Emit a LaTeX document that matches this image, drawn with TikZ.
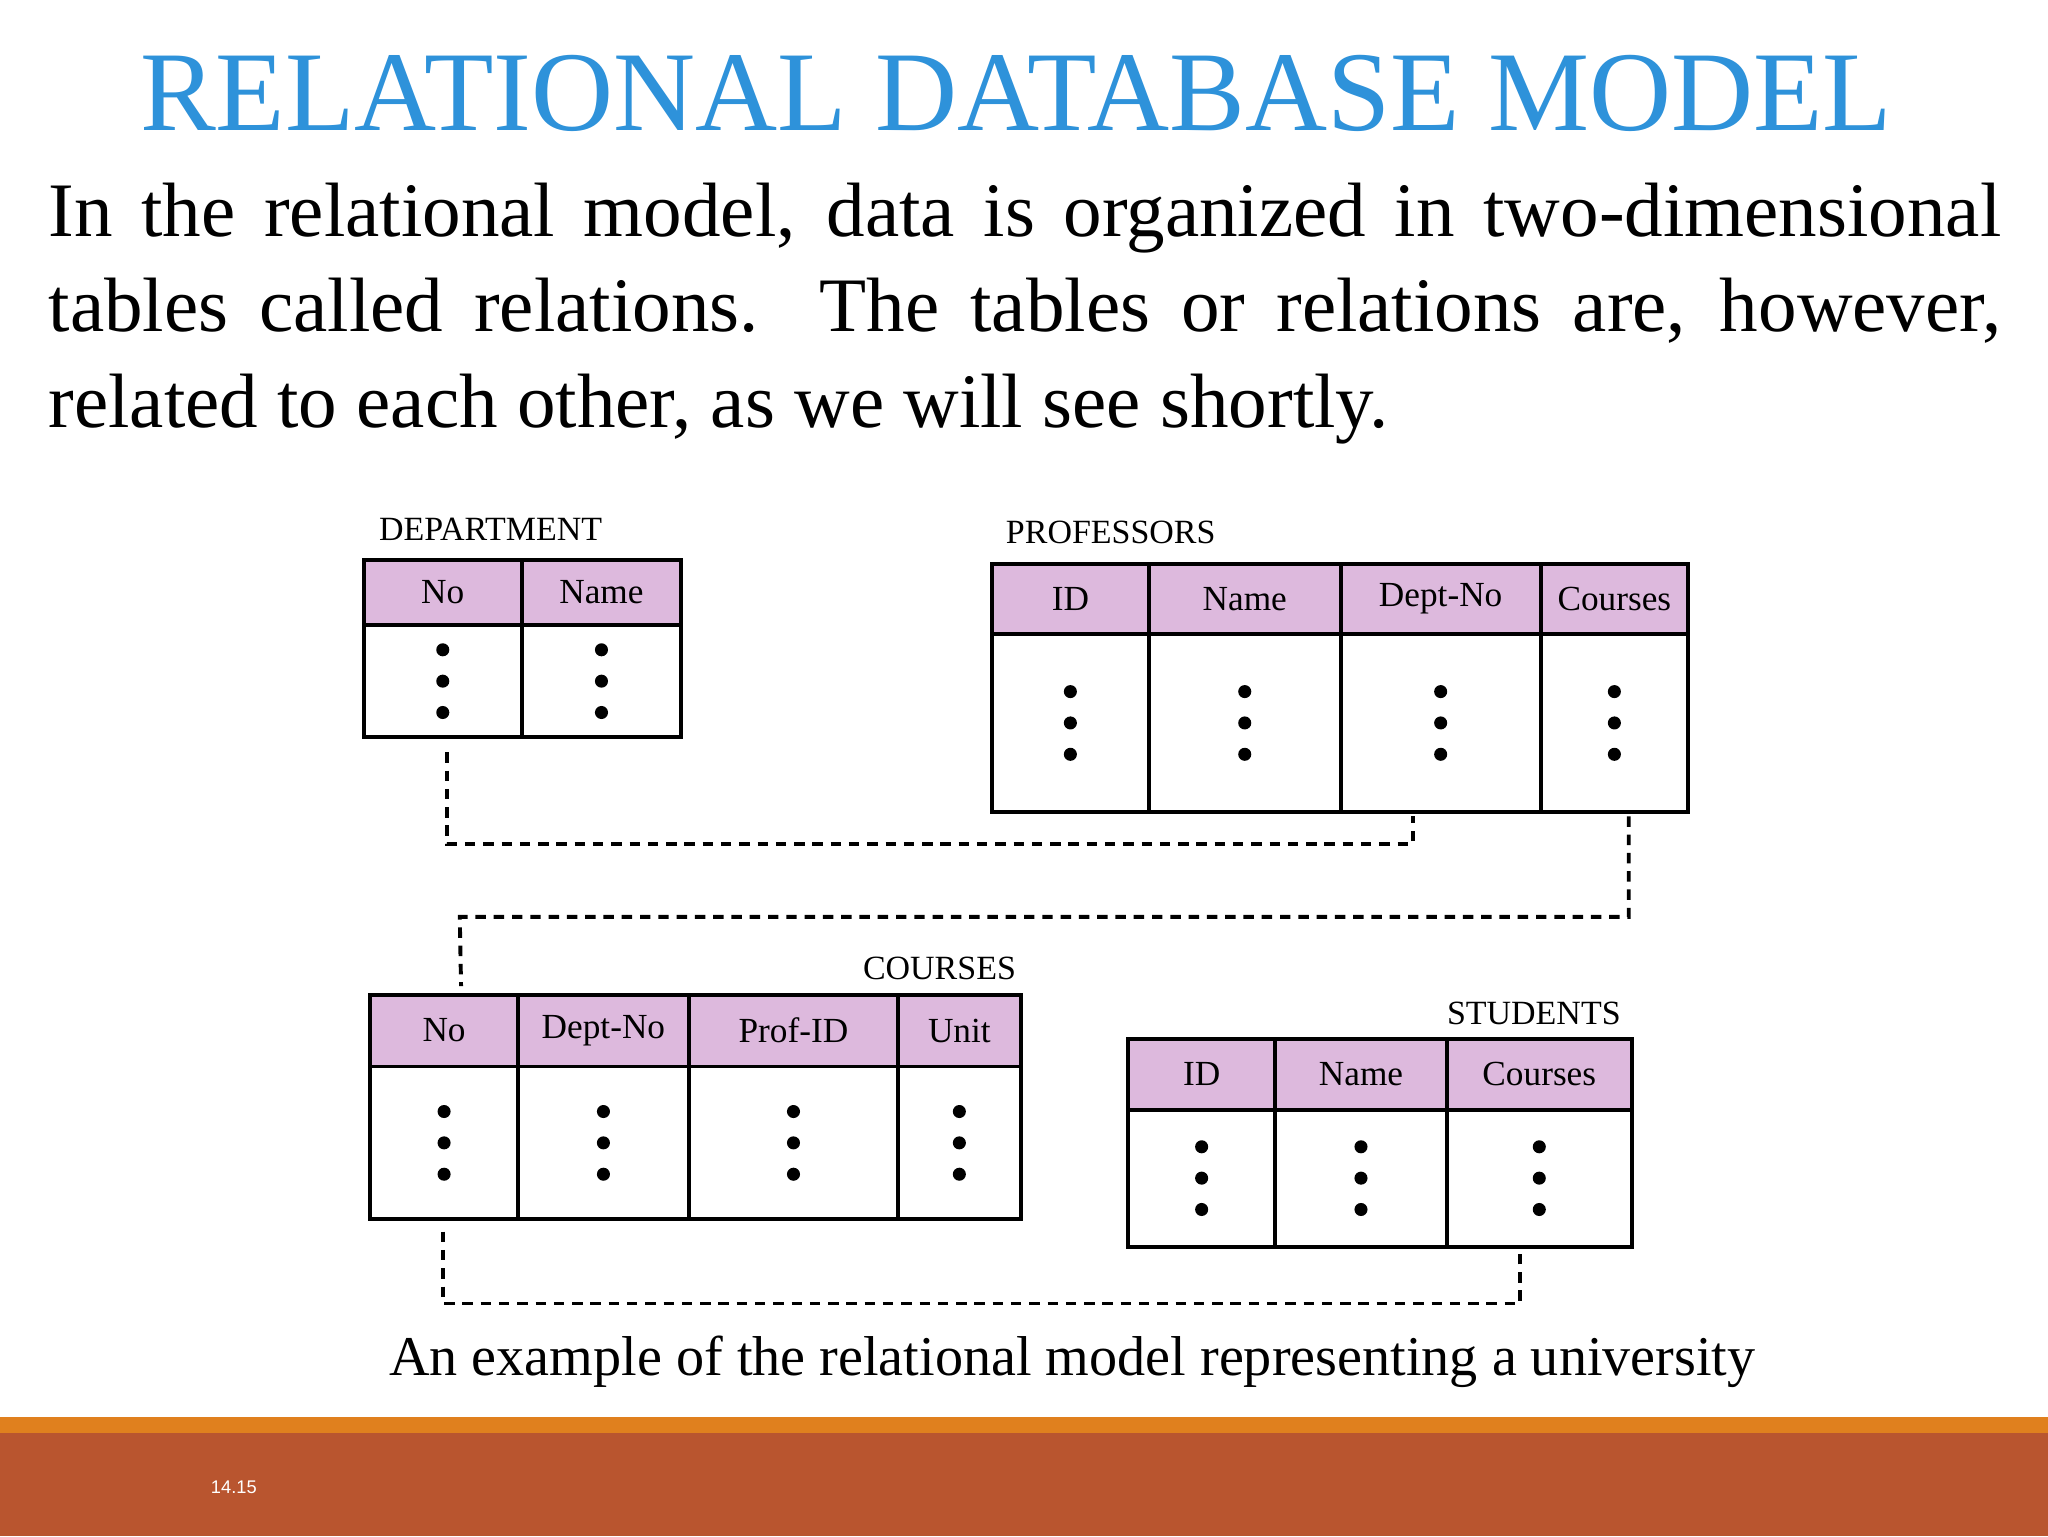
\documentclass[tikz,border=0pt]{standalone}
\usepackage{fontspec}
\setmainfont{Liberation Serif}
\newfontfamily\pgfont{Liberation Sans}
\usepackage{xcolor}
\usetikzlibrary{calc}
\definecolor{hdrpink}{HTML}{DDB9DD}
\definecolor{titleblue}{HTML}{2E92DA}
\definecolor{barorange}{HTML}{E0801E}
\definecolor{barrust}{HTML}{B9552F}
\tikzset{
  cell/.style={draw, line width=3pt, anchor=north west, inner sep=0pt, font=\fontsize{27}{30}\selectfont},
  hdr/.style={cell, fill=hdrpink},
  tlabel/.style={font=\fontsize{26}{30}\selectfont, inner sep=0pt},
  link/.style={line width=3pt, dash pattern=on 8pt off 6pt},
  dot/.style={fill=black, draw=none, circle, minimum size=10pt, inner sep=0pt}
}
\newcommand{\mytable}[5]{%
  \foreach \xx/\ww/\lab [count=\i] in {#5} {
    \node[hdr, minimum width=\ww pt, minimum height=#3pt] (#1h\i) at (\xx,#2) {\lab};
    \node[cell, minimum width=\ww pt, minimum height=#4pt] (#1b\i) at (\xx,#2+#3) {};
    \node[dot] at ($(#1b\i.center)+(0,24)$) {};
    \node[dot] at (#1b\i.center) {};
    \node[dot] at ($(#1b\i.center)+(0,-24)$) {};
  }}
\begin{document}
\begin{tikzpicture}[x=1pt,y=-1pt]
\useasboundingbox (0,0) rectangle (1568,1176);
\fill[white] (0,0) rectangle (1568,1176);
\fill[barorange] (0,1085) rectangle (1568,1097);
\fill[barrust] (0,1097) rectangle (1568,1176);
\node[text=white, font=\pgfont\fontsize{14}{16}\selectfont] (pg) at (179,1139) {14.15};

\node[text=titleblue, font=\fontsize{87}{96}\selectfont, anchor=base] (title) at (778,100) {RELATIONAL DATABASE MODEL};
\node[anchor=north west, text width=1495pt, align=justify, inner sep=0pt, font=\fontsize{59}{73}\selectfont] (para) at (37,140)
 {In the relational model, data is organized in two-dimensional\linebreak tables called relations. The tables or relations are, however,\linebreak related to each other, as we will see shortly.};

\node[tlabel, anchor=base west] (dl) at (290,414) {DEPARTMENT};
\mytable{d}{427}{50}{86}{277/121/No, 398/122/Name}
\node[tlabel, anchor=base west] (pl) at (770,416) {PROFESSORS};
\mytable{p}{430}{54}{136}{758/120/ID, 878/147/Name, 1025/153/Dept-No, 1178/113/Courses}
\node[tlabel, anchor=base east] (cl) at (778,750) {COURSES};
\mytable{c}{760}{55}{117}{282/113/No, 395/131/Dept-No, 526/160/Prof-ID, 686/94/Unit}
\node[tlabel, anchor=base east] (sl) at (1241,784) {STUDENTS};
\mytable{s}{794}{54}{105}{862/113/ID, 975/131/Name, 1106/142/Courses}

\draw[link] ($(db1.south)+(3,10)$) |- (1082,646) -- ($(pb3.south -| 1082,0)+(0,2)$);
\draw[link] ($(pb4.south)+(11,2)$) |- (352,702) -- ($(ch1.north)+(13,-5)$);
\draw[link] ($(cb1.south)+(-1,8)$) |- (1164,998) -- ($(sb3.south -| 1164,0)+(0,2)$);

\node[font=\fontsize{43}{48}\selectfont, anchor=base] (cap) at (821,1053) {An example of the relational model representing a university};
\end{tikzpicture}
\end{document}
